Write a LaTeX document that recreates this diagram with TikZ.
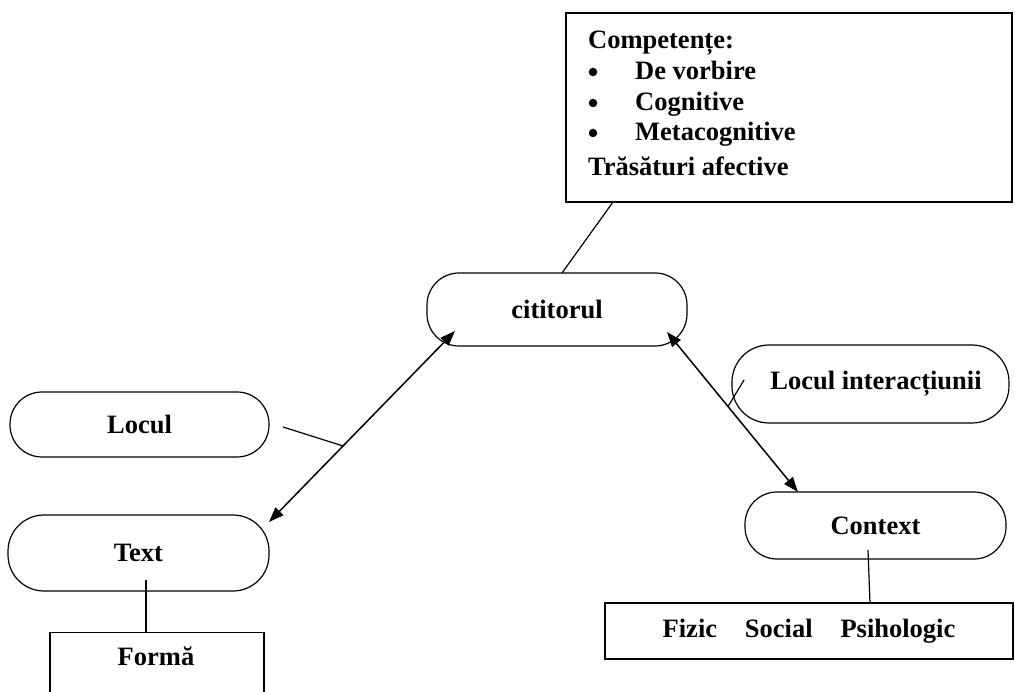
\documentclass[tikz,border=0pt]{standalone}
\usepackage{fontspec}
\setmainfont{Liberation Serif}
\usetikzlibrary{arrows.meta,calc}
\tikzset{
  pill/.style={draw, line width=1.2pt, rounded corners=32pt, inner sep=0pt, font=\bfseries\fontsize{26.5}{30}\selectfont},
  boxn/.style={draw, line width=1.2pt, inner sep=0pt, font=\bfseries\fontsize{26.5}{30}\selectfont},
  txt/.style={inner sep=0pt, font=\bfseries\fontsize{26.5}{30}\selectfont},
  bul/.style={circle, fill=black, inner sep=0pt, minimum size=8.5pt},
  link/.style={line width=1.2pt},
  dbl/.style={line width=1.5pt, {Triangle[length=15pt,width=11pt]}-{Triangle[length=15pt,width=11pt]}}
}
\begin{document}
\begin{tikzpicture}[x=1pt,y=-1pt]
\useasboundingbox (0,0) rectangle (1015,692);
\clip (0,0) rectangle (1015,692);
\fill[white] (0,0) rectangle (1015,692);
% top box
\node[boxn, minimum width=446pt, minimum height=189pt] (comp) at (789,107.5) {};
\node[txt, anchor=base west] (l1) at (588,49) {Competențe:};
\node[bul] (b1) at (593,72) {};
\node[txt, anchor=base west] (l2) at (635,80) {De vorbire};
\node[bul] (b2) at (593,103) {};
\node[txt, anchor=base west] (l3) at (635,111) {Cognitive};
\node[bul] (b3) at (593,133) {};
\node[txt, anchor=base west] (l4) at (635,141) {Metacognitive};
\node[txt, anchor=base west] (l5) at (588,176) {Trăsături afective};
% pills
\node[pill, minimum width=260pt, minimum height=73pt] (cit) at (557,309.5) {cititorul};
\node[pill, minimum width=259pt, minimum height=65pt] (loc) at (139.5,424.5) {Locul};
\node[pill, minimum width=277pt, minimum height=78pt, rounded corners=37pt] (li) at (870.5,384) {};
\node[txt, anchor=base] (litxt) at (876,390) {Locul interacțiunii};
\node[pill, minimum width=261pt, minimum height=76pt, rounded corners=36pt] (txtn) at (138.5,553) {Text};
\node[pill, minimum width=261pt, minimum height=67pt] (ctx) at (875.5,525.5) {Context};
% bottom boxes
\node[boxn, minimum width=214pt, minimum height=100pt, anchor=north] (forma) at (157,632) {};
\node[txt, anchor=base] (formatxt) at (156,665) {Formă};
\node[boxn, minimum width=408pt, minimum height=56pt] (fiz) at (809,631) {Fizic\hspace{1.05em}Social\hspace{1.05em}Psihologic};
% connector end points
\coordinate (a1) at (455,331);
\coordinate (a2) at (269,522);
\coordinate (b1e) at (667,332);
\coordinate (b2e) at (798,492);
\coordinate (compb) at (613,202);
\coordinate (citt) at (562,273);
\coordinate (locr) at (283,427);
\coordinate (lil) at (744,380);
\coordinate (txb) at (146,580);
\coordinate (fot) at (146,632);
\coordinate (ctb) at (868,550);
\coordinate (fzt) at (870,603);
% connectors
\draw[dbl] (a1) -- (a2);
\draw[dbl] (b1e) -- (b2e);
\draw[link] (compb) -- (citt);
\draw[link] (locr) -- ($(a1)!0.602!(a2)$);
\draw[link] (lil) -- ($(b1e)!0.466!(b2e)$);
\draw[link] (txb) -- (fot);
\draw[link] (ctb) -- (fzt);
\end{tikzpicture}
\end{document}
